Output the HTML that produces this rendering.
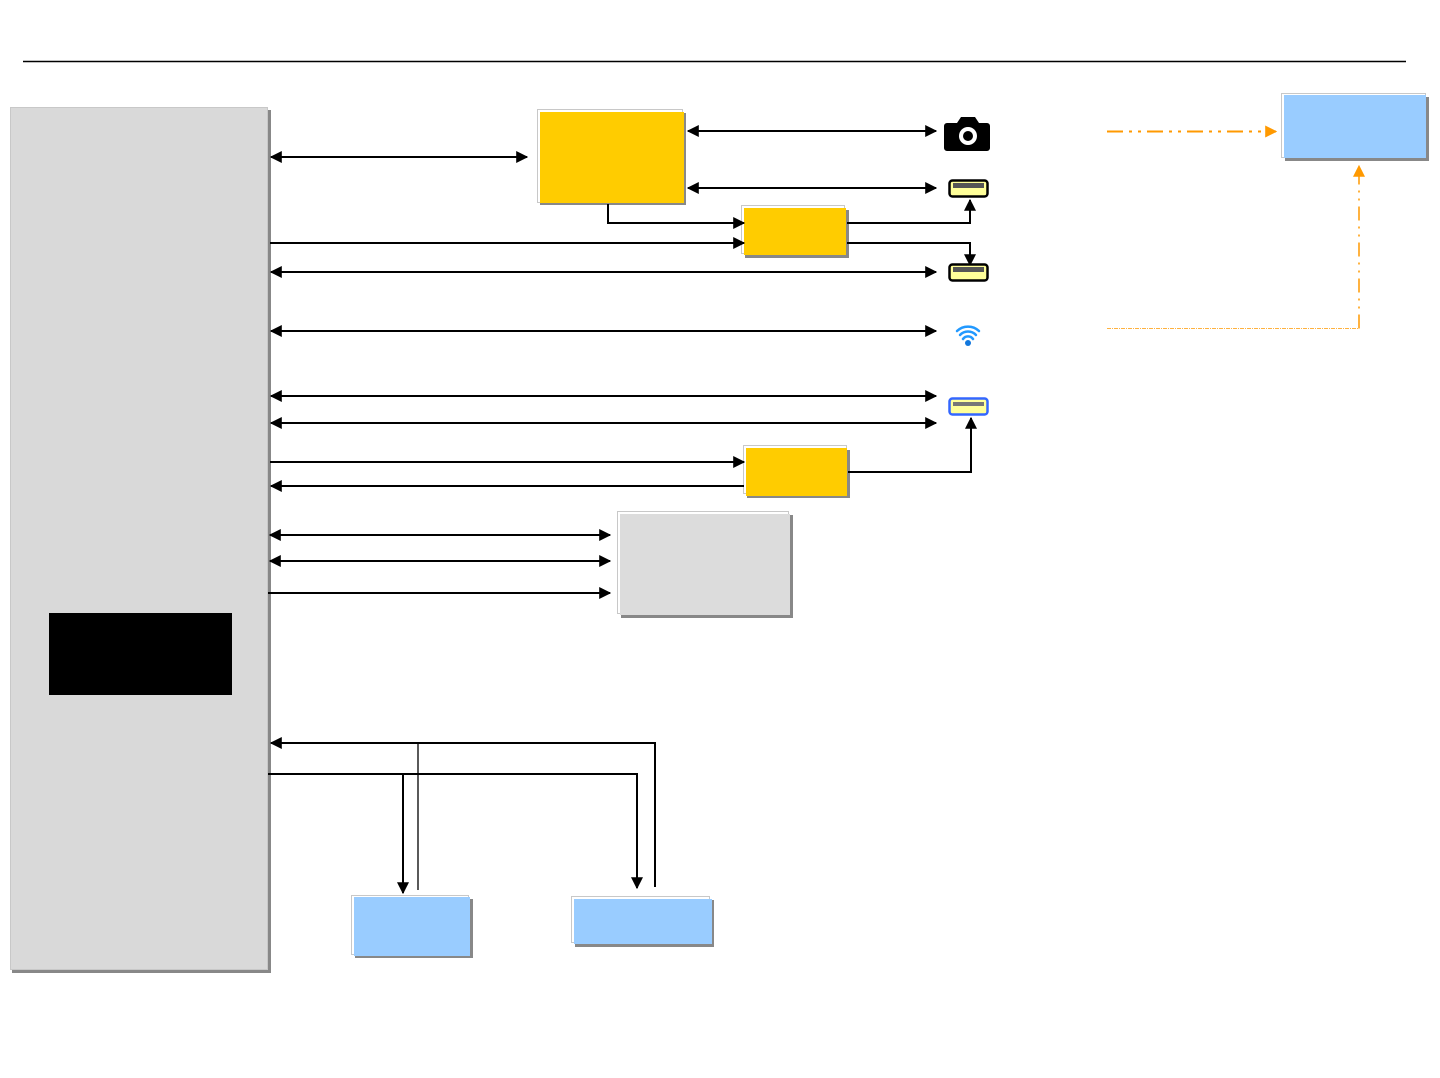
<!DOCTYPE html>
<html><head><meta charset="utf-8"><style>html,body{margin:0;padding:0;background:#fff}svg{display:block}</style></head>
<body>
<svg width="1440" height="1078" viewBox="0 0 1440 1078" xmlns="http://www.w3.org/2000/svg">
<defs>
<marker id="a" viewBox="0 0 10 10" refX="9" refY="5" markerWidth="12" markerHeight="12" markerUnits="userSpaceOnUse" orient="auto-start-reverse"><path d="M0,0L10,5L0,10z" fill="#000"/></marker>
<marker id="o" viewBox="0 0 10 10" refX="9" refY="5" markerWidth="12" markerHeight="12" markerUnits="userSpaceOnUse" orient="auto-start-reverse"><path d="M0,0L10,5L0,10z" fill="#f90"/></marker>
</defs>
<line x1="23" y1="61.5" x2="1406" y2="61.5" stroke="#000" stroke-width="1.5"/>
<g>
<rect x="12" y="110" width="259" height="863" fill="#888"/>
<rect x="10.5" y="107.5" width="257" height="862" fill="#d9d9d9" stroke="#c8c8c8"/>
<rect x="49" y="613" width="183" height="82" fill="#000"/>

<rect x="540" y="113" width="146" height="92" fill="#888"/>
<rect x="537.5" y="109.5" width="145" height="93" fill="#fff" stroke="#c8c8c8"/>
<rect x="540" y="112" width="144" height="91" fill="#fc0"/>

<rect x="745" y="210" width="104" height="48" fill="#888"/>
<rect x="741.5" y="205.5" width="103" height="48" fill="#fff" stroke="#c8c8c8"/>
<rect x="744" y="208" width="102" height="47" fill="#fc0"/>

<rect x="747" y="450" width="103" height="48" fill="#888"/>
<rect x="743.5" y="445.5" width="103" height="48" fill="#fff" stroke="#c8c8c8"/>
<rect x="746" y="448" width="101" height="48" fill="#fc0"/>

<rect x="621" y="515" width="172" height="103" fill="#888"/>
<rect x="617.5" y="511.5" width="171" height="102" fill="#fff" stroke="#c8c8c8"/>
<rect x="620" y="514" width="170" height="101" fill="#dcdcdc"/>

<rect x="1285" y="97" width="144" height="64" fill="#888"/>
<rect x="1281.5" y="93.5" width="144" height="64" fill="#fff" stroke="#c8c8c8"/>
<rect x="1284" y="95" width="142" height="63" fill="#9cf"/>

<rect x="355" y="899" width="118" height="59" fill="#888"/>
<rect x="351.5" y="895.5" width="117" height="59" fill="#fff" stroke="#c8c8c8"/>
<rect x="354" y="897" width="116" height="59" fill="#9cf"/>

<rect x="575" y="900" width="139" height="47" fill="#888"/>
<rect x="571.5" y="896.5" width="138" height="46" fill="#fff" stroke="#c8c8c8"/>
<rect x="574" y="899" width="138" height="45" fill="#9cf"/>
</g>
<g stroke="#000" stroke-width="2" fill="none">
<line x1="271" y1="157" x2="527" y2="157" marker-start="url(#a)" marker-end="url(#a)"/>
<line x1="688" y1="131" x2="936" y2="131" marker-start="url(#a)" marker-end="url(#a)"/>
<line x1="688" y1="188" x2="936" y2="188" marker-start="url(#a)" marker-end="url(#a)"/>
<polyline points="608,204 608,223 744,223" marker-end="url(#a)"/>
<line x1="270" y1="243" x2="744" y2="243" marker-end="url(#a)"/>
<polyline points="847,223 970,223 970,200" marker-end="url(#a)"/>
<polyline points="847,243 970,243 970,265" marker-end="url(#a)"/>
<line x1="271" y1="272" x2="936" y2="272" marker-start="url(#a)" marker-end="url(#a)"/>
<line x1="271" y1="331" x2="936" y2="331" marker-start="url(#a)" marker-end="url(#a)"/>
<line x1="271" y1="396" x2="936" y2="396" marker-start="url(#a)" marker-end="url(#a)"/>
<line x1="271" y1="423" x2="936" y2="423" marker-start="url(#a)" marker-end="url(#a)"/>
<line x1="270" y1="462" x2="744" y2="462" marker-end="url(#a)"/>
<line x1="744" y1="486" x2="271" y2="486" marker-end="url(#a)"/>
<polyline points="848,472 971,472 971,418" marker-end="url(#a)"/>
<line x1="270" y1="535" x2="610" y2="535" marker-start="url(#a)" marker-end="url(#a)"/>
<line x1="270" y1="561" x2="610" y2="561" marker-start="url(#a)" marker-end="url(#a)"/>
<line x1="268" y1="593" x2="610" y2="593" marker-end="url(#a)"/>
<polyline points="655,887 655,743 271,743" marker-end="url(#a)"/>
<polyline points="268,774 637,774 637,888" marker-end="url(#a)"/>
<line x1="403" y1="774" x2="403" y2="893" marker-end="url(#a)"/>
<line x1="418" y1="744" x2="418" y2="890" stroke-width="1.3"/>
</g>
<line x1="1107" y1="131.5" x2="1276" y2="131.5" stroke="#f90" stroke-width="2" stroke-dasharray="16,6,3,6,3,6" marker-end="url(#o)"/>
<polyline points="1359,328.5 1359,166" fill="none" stroke="#f90" stroke-width="1.5" stroke-dasharray="14,6,2,6,2,6" marker-end="url(#o)"/>
<line x1="1107" y1="328.5" x2="1359" y2="328.5" stroke="#f90" stroke-width="0.8" stroke-dasharray="4,1,1,1"/>
<g>
<path d="M947,123 h10 l4,-6 h14 l4,6 h8 a3,3 0 0 1 3,3 v22 a3,3 0 0 1 -3,3 h-40 a3,3 0 0 1 -3,-3 v-22 a3,3 0 0 1 3,-3z" fill="#000"/>
<circle cx="968" cy="136" r="9" fill="#fff"/><circle cx="968" cy="136" r="5" fill="#000"/>
<rect x="949.5" y="180.5" width="38" height="16" rx="3" fill="#ff9" stroke="#000" stroke-width="2.5"/>
<rect x="953" y="183" width="31" height="5" fill="#555"/>
<rect x="949.5" y="264.5" width="38" height="16" rx="3" fill="#ff9" stroke="#000" stroke-width="2.5"/>
<rect x="953" y="267" width="31" height="5" fill="#555"/>
<rect x="949.5" y="398.5" width="38" height="16" rx="3" fill="#ff9" stroke="#36f" stroke-width="2.5"/>
<rect x="953" y="402" width="31" height="4" fill="#777"/>
<g fill="none" stroke="#29f" stroke-width="2.5" stroke-linecap="round">
<path d="M957,331 a16,16 0 0 1 22,0"/><path d="M960,335 a11,11 0 0 1 16,0"/><path d="M963,339 a6,6 0 0 1 10,0"/>
</g>
<circle cx="968" cy="343" r="3" fill="#17d"/>
</g>
</svg>
</body></html>
